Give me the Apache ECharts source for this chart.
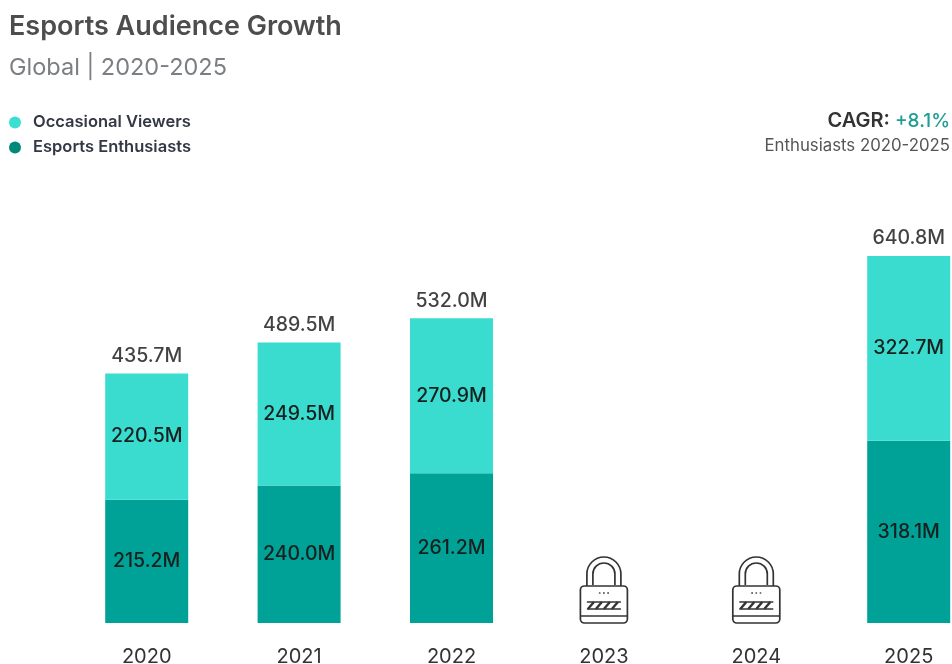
<!DOCTYPE html>
<html><head><meta charset="utf-8">
<style>html,body{margin:0;padding:0;background:#fff}#c{width:952px;height:664px}</style>
<script src="https://cdn.jsdelivr.net/npm/echarts@6/dist/echarts.min.js"></script>
</head><body><div id="c"></div>
<script>
const years = ['2020','2021','2022','2023','2024','2025'];
const occasional = [220.5,249.5,270.9,null,null,322.7];
const enthusiasts = [215.2,240.0,261.2,null,null,318.1];
const totals = [435.7,489.5,532.0,null,null,640.8];
const lockedYears = ['2023','2024'];
const FONT = 'Inter, "Open Sans", sans-serif';
const fmt = p => p.value == null ? '' : Number(Array.isArray(p.value) ? p.value[1] : p.value).toFixed(1) + 'M';
const barLabel = {show:true,position:'inside',formatter:fmt,color:'#16211f',fontFamily:FONT,fontSize:19.5,fontWeight:500};
const INK = '#333';
function lock(params, api){
  const c = api.coord([api.value(0), 0]);
  const x = c[0], b = c[1];
  const st = {fill:'none',stroke:INK,lineWidth:1.7};
  const line = (x1,y1,x2,y2,w) => ({type:'line',shape:{x1:x+x1,y1:b+y1,x2:x+x2,y2:b+y2},style:{stroke:INK,lineWidth:w||1.7}});
  const kids = [
    {type:'rect',shape:{x:x-23.5,y:b-37,width:47,height:37,r:4},style:st},
    line(-23.5,-7,23.5,-7),
    {type:'path',shape:{pathData:`M${x-17} ${b-37}V${b-49}A17 17 0 0 1 ${x+17} ${b-49}V${b-37}`},style:st},
    {type:'path',shape:{pathData:`M${x-11} ${b-38}V${b-49}A11 11 0 0 1 ${x+11} ${b-49}V${b-38}`},style:st},
    line(-17,-21,17,-21,1.7), line(-17,-14,17,-14,1.7),
    line(-5,-30,-3.4,-30,1.3), line(-0.8,-30,0.8,-30,1.3), line(3.4,-30,5,-30,1.3)
  ];
  [-13,-5,3,11].forEach(dx => kids.push(line(dx+3,-21,dx-3,-14,2.4)));
  return {type:'group',children:kids};
}
const chart = echarts.init(document.getElementById('c'),null,{renderer:'canvas'});
chart.setOption({
  backgroundColor:'#fff',
  animation:false,
  title:[
    {text:'Esports Audience Growth',left:9,top:13,padding:0,textStyle:{fontFamily:FONT,fontSize:27,fontWeight:600,color:'#4d4d4d'}},
    {text:'Global | 2020-2025',left:9,top:56,padding:0,textStyle:{fontFamily:FONT,fontSize:23.5,fontWeight:400,color:'#7b7f83'}},
    {text:'{a|CAGR: }{b|+8.1%}',right:2,top:111,padding:0,textStyle:{rich:{
      a:{fontFamily:FONT,fontSize:20,fontWeight:600,color:'#333'},
      b:{fontFamily:FONT,fontSize:19,fontWeight:500,color:'#1f9e92'}}}},
    {text:'Enthusiasts 2020-2025',right:2,top:137,padding:0,textStyle:{fontFamily:FONT,fontSize:16.8,fontWeight:400,color:'#555'}}
  ],
  legend:{
    orient:'vertical',left:9,top:114,padding:0,itemWidth:12,itemHeight:12,itemGap:8,icon:'circle',
    selectedMode:false,
    textStyle:{fontFamily:FONT,fontSize:16.5,fontWeight:600,color:'#333845',padding:[0,0,0,7]},
    data:[{name:'Occasional Viewers',itemStyle:{color:'#3adfd2'}},{name:'Esports Enthusiasts',itemStyle:{color:'#00897b'}}]
  },
  grid:{left:70.5,top:222,width:914.4,height:401,containLabel:false,outerBoundsMode:'none'},
  xAxis:{type:'category',data:years,axisLine:{show:false},axisTick:{show:false},
    axisLabel:{color:'#333',fontFamily:FONT,fontSize:20,margin:24}},
  yAxis:{type:'value',min:0,max:700,show:false,splitLine:{show:false}},
  series:[
    {name:'Esports Enthusiasts',type:'bar',stack:'a',barWidth:83,data:enthusiasts,itemStyle:{color:'#00a297'},label:barLabel},
    {name:'Occasional Viewers',type:'bar',stack:'a',barWidth:83,data:occasional,itemStyle:{color:'#3adcd0'},label:barLabel},
    {name:'Total',type:'scatter',data:totals,symbolSize:1,itemStyle:{color:'rgba(0,0,0,0)'},
      label:{show:true,position:'top',distance:7,formatter:fmt,color:'#111',fontFamily:FONT,fontSize:19.5,fontWeight:500}},
    {name:'Locked',type:'custom',renderItem:lock,data:lockedYears.map(y=>[y,0]),encode:{x:0,y:1},silent:true}
  ]
});
</script></body></html>
